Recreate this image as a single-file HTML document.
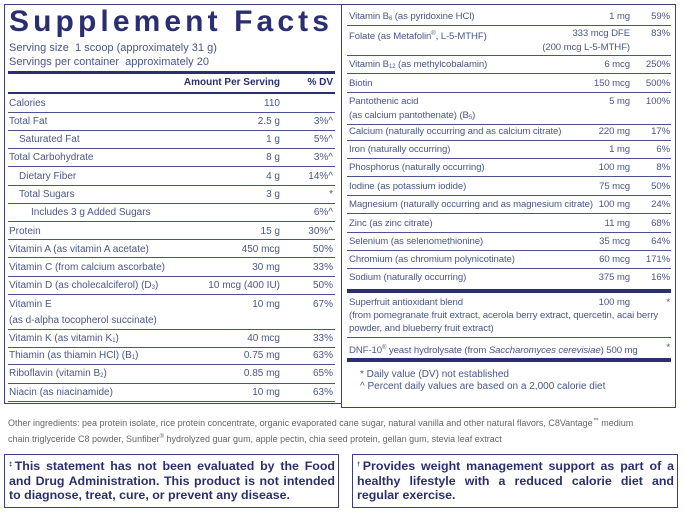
<!DOCTYPE html>
<html><head><meta charset="utf-8"><style>
*{margin:0;padding:0;box-sizing:border-box}
body{width:684px;height:512px;background:#fff;position:relative;overflow:hidden;font-family:"Liberation Sans",sans-serif;color:#4a5788}
.a{position:absolute;white-space:nowrap;font-size:10px;line-height:12px}
.rp .a{font-size:9.6px;letter-spacing:-0.1px}
.hl{position:absolute;height:1px;background:#4a5390}
.tb{position:absolute;background:#2b2f72}
.r{text-align:right}
sub{font-size:6px;vertical-align:-1px}
sup{font-size:6px;vertical-align:4px}
.box{position:absolute;border:1.5px solid #3a3f85}
.st{position:absolute;font-weight:bold;color:#2b2f6e;font-size:12.4px;line-height:14.5px;text-align:justify;text-align-last:left}
</style></head><body>
<div class="box" style="left:4px;top:4px;width:338px;height:400px"></div>
<div class="box" style="left:341px;top:4px;width:335px;height:404px"></div>
<div class="a" style="left:9px;top:5px;font-size:30px;line-height:34px;font-weight:bold;color:#2b2f72;letter-spacing:4.1px">Supplement Facts</div>
<div class="a" style="left:9px;top:42px;font-size:11px">Serving size&nbsp; 1 scoop (approximately 31 g)</div>
<div class="a" style="left:9px;top:56px;font-size:11px">Servings per container&nbsp; approximately 20</div>
<div class="tb" style="left:8px;top:71px;width:327px;height:3px"></div>
<div class="a r" style="left:150px;width:130px;top:77px;font-weight:bold;color:#2b2f6e">Amount Per Serving</div>
<div class="a r" style="left:290px;width:43px;top:77px;font-weight:bold;color:#2b2f6e">% DV</div>
<div class="tb" style="left:8px;top:92px;width:327px;height:2px"></div>
<div id="L"></div><div class="rp"><div id="R"></div></div>
<div class="tb" style="left:347px;top:289px;width:324px;height:4px"></div>
<div class="tb" style="left:347px;top:358px;width:324px;height:4px"></div>
<div class="a" style="left:360px;top:369px">* Daily value (DV) not established</div>
<div class="a" style="left:360px;top:381px">^ Percent daily values are based on a 2,000 calorie diet</div>
<div class="a" style="left:8px;top:415px;font-size:9px;color:#666">Other ingredients: pea protein isolate, rice protein concentrate, organic evaporated cane sugar, natural vanilla and other natural flavors, C8Vantage<sup>™</sup> medium</div>
<div class="a" style="left:8px;top:431px;font-size:9px;color:#666">chain triglyceride C8 powder, Sunfiber<sup>®</sup> hydrolyzed guar gum, apple pectin, chia seed protein, gellan gum, stevia leaf extract</div>
<div class="box" style="left:4px;top:454px;width:335px;height:54px"></div>
<div class="box" style="left:352px;top:454px;width:326px;height:54px"></div>
<div class="st" style="left:9px;top:458px;width:326px"><sup>‡</sup>This statement has not been evaluated by the Food and Drug Administration. This product is not intended to diagnose, treat, cure, or prevent any disease.</div>
<div class="st" style="left:357px;top:458px;width:317px"><sup>†</sup>Provides weight management support as part of a healthy lifestyle with a reduced calorie diet and regular exercise.</div>
<script>
function put(id,rows,lx,ax,dx,x0,x1){var h='';rows.forEach(function(r){
var t=r[0];h+='<div class="a" style="left:'+(lx+(r[5]||0))+'px;top:'+(t-6)+'px">'+r[1]+'</div>';
if(r[2])h+='<div class="a r" style="left:'+(ax-150)+'px;width:150px;top:'+(t-6)+'px">'+r[2]+'</div>';
if(r[3])h+='<div class="a r" style="left:'+(dx-50)+'px;width:50px;top:'+(t-6)+'px">'+r[3]+'</div>';
if(r[4])h+='<div class="hl" style="left:'+x0+'px;width:'+(x1-x0)+'px;top:'+r[4]+'px"></div>';});
document.getElementById(id).outerHTML=h;}
put('L',[
[104,'Calories','110','',112],
[122,'Total Fat','2.5 g','3%^',130],
[140,'Saturated Fat','1 g','5%^',148,10],
[158,'Total Carbohydrate','8 g','3%^',166],
[177,'Dietary Fiber','4 g','14%^',185,10],
[195,'Total Sugars','3 g','*',203,10],
[213,'Includes 3 g Added Sugars','','6%^',221,22],
[232,'Protein','15 g','30%^',239],
[250,'Vitamin A (as vitamin A acetate)','450 mcg','50%',257],
[268,'Vitamin C (from calcium ascorbate)','30 mg','33%',276],
[286,'Vitamin D (as cholecalciferol) (D<sub>3</sub>)','10 mcg (400 IU)','50%',294],
[305,'Vitamin E','10 mg','67%',0],
[321,'(as d-alpha tocopherol succinate)','','',329],
[339,'Vitamin K (as vitamin K<sub>1</sub>)','40 mcg','33%',347],
[356,'Thiamin (as thiamin HCl) (B<sub>1</sub>)','0.75 mg','63%',364],
[374,'Riboflavin (vitamin B<sub>2</sub>)','0.85 mg','65%',383],
[393,'Niacin (as niacinamide)','10 mg','63%',401]
],9,280,333,8,335);
put('R',[
[17,'Vitamin B<sub>6</sub> (as pyridoxine HCl)','1 mg','59%',25],
[34,'Folate (as Metafolin<sup>®</sup>, L-5-MTHF)','333 mcg DFE','83%',0],
[48,'','(200 mcg L-5-MTHF)','',55],
[65,'Vitamin B<sub>12</sub> (as methylcobalamin)','6 mcg','250%',73],
[84,'Biotin','150 mcg','500%',92],
[102,'Pantothenic acid','5 mg','100%',0],
[116,'(as calcium pantothenate) (B<sub>5</sub>)','','',124],
[132,'Calcium (naturally occurring and as calcium citrate)','220 mg','17%',140],
[150,'Iron (naturally occurring)','1 mg','6%',158],
[168,'Phosphorus (naturally occurring)','100 mg','8%',176],
[187,'Iodine (as potassium iodide)','75 mcg','50%',195],
[205,'Magnesium (naturally occurring and as magnesium citrate)','100 mg','24%',213],
[224,'Zinc (as zinc citrate)','11 mg','68%',232],
[242,'Selenium (as selenomethionine)','35 mcg','64%',250],
[260,'Chromium (as chromium polynicotinate)','60 mcg','171%',268],
[278,'Sodium (naturally occurring)','375 mg','16%',0],
[303,'Superfruit antioxidant blend','100 mg','*',0],
[316,'(from pomegranate fruit extract, acerola berry extract, quercetin, acai berry','','',0],
[329,'powder, and blueberry fruit extract)','','',337],
[348,'DNF-10<sup>®</sup> yeast hydrolysate (from <i>Saccharomyces cerevisiae</i>) 500 mg','','*',0]
],349,630,670,347,671);
</script>
</body></html>
